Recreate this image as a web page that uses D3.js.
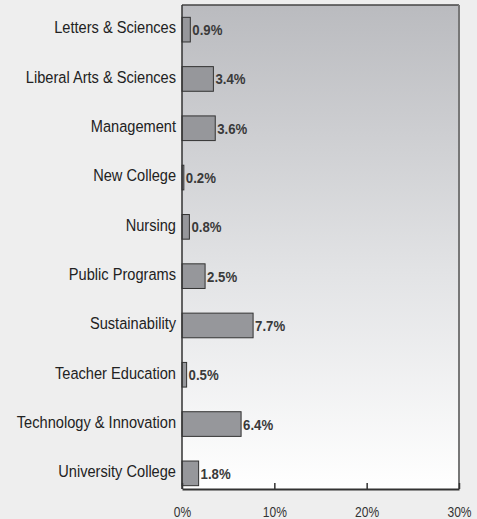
<!DOCTYPE html>
<html>
<head>
<meta charset="utf-8">
<script src="https://cdn.jsdelivr.net/npm/d3@7"></script>
<style>
  body { margin: 0; background: #eeeeee; }
  svg { display: block; }
</style>
</head>
<body>
<svg id="chart" width="477" height="519"></svg>
<script>
// chart data
var categories = ['Letters & Sciences', 'Liberal Arts & Sciences', 'Management', 'New College',
    'Nursing', 'Public Programs', 'Sustainability', 'Teacher Education',
    'Technology & Innovation', 'University College'];
var values = [0.9, 3.4, 3.6, 0.2, 0.8, 2.5, 7.7, 0.5, 6.4, 1.8];
var ticks = [0, 10, 20, 30];

var svg = d3.select('#chart');
var margin = { top: 5, right: 18, bottom: 30, left: 182 };
var width = 477 - margin.left - margin.right;
var height = 519 - margin.top - margin.bottom;
var font = '"Liberation Sans", Arial, sans-serif';
var squeeze = 0.86; // fake a condensed face

var x = d3.scaleLinear().domain([0, 30]).range([0, width]);
var y = d3.scaleBand().domain(categories).range([0, 493])
    .paddingInner(0.5).paddingOuter(0.25);

var grad = svg.append('defs').append('linearGradient')
    .attr('id', 'bg').attr('x1', 0).attr('y1', 0).attr('x2', 0).attr('y2', 1);
grad.append('stop').attr('offset', '0%').attr('stop-color', '#babbbf');
grad.append('stop').attr('offset', '55%').attr('stop-color', '#e2e3e5');
grad.append('stop').attr('offset', '100%').attr('stop-color', '#ffffff');

var g = svg.append('g').attr('transform', 'translate(' + margin.left + ',' + margin.top + ')');

g.append('rect')
    .attr('width', width).attr('height', height)
    .attr('fill', 'url(#bg)');

// borders: top dark, right gray
g.append('line').attr('x1', 0).attr('x2', width).attr('y1', 0).attr('y2', 0)
    .attr('stroke', '#444').attr('stroke-width', 1.5);
g.append('line').attr('x1', width).attr('x2', width).attr('y1', 0).attr('y2', height)
    .attr('stroke', '#777').attr('stroke-width', 2);

g.selectAll('.bar')
    .data(values)
    .enter().append('rect')
    .attr('class', 'bar')
    .attr('x', 0)
    .attr('y', function (d, i) { return y(categories[i]); })
    .attr('width', function (d) { return x(d); })
    .attr('height', y.bandwidth())
    .attr('fill', '#96979b')
    .attr('stroke', '#333')
    .attr('stroke-width', 1);

g.selectAll('.val')
    .data(values)
    .enter().append('text')
    .attr('class', 'val')
    .attr('transform', function (d, i) {
        return 'translate(' + (x(d) + 2) + ',' + (y(categories[i]) + y.bandwidth() / 2 + 5.5) + ') scale(0.88,1)';
    })
    .attr('font-family', font)
    .attr('font-weight', 'bold')
    .attr('font-size', 15)
    .attr('fill', '#3a3a3a')
    .text(function (d) { return d.toFixed(1) + '%'; });

// category axis
var yAxis = g.append('g').call(d3.axisLeft(y).tickSize(0).tickPadding(0));
yAxis.select('.domain').remove();
yAxis.selectAll('text')
    .attr('x', -6 / squeeze)
    .attr('dy', '0.22em')
    .attr('transform', 'scale(' + squeeze + ',1)')
    .attr('font-family', font)
    .attr('font-size', 17)
    .attr('fill', '#222');
g.append('line').attr('x1', 0).attr('x2', 0).attr('y1', 0).attr('y2', height)
    .attr('stroke', '#333').attr('stroke-width', 1.5);

// value axis, ticks point up into the plot
var xAxis = g.append('g')
    .attr('transform', 'translate(0,' + height + ')')
    .call(d3.axisBottom(x).tickValues(ticks).tickSize(-6).tickSizeOuter(0).tickPadding(18)
        .tickFormat(function (d) { return d + '%'; }));
xAxis.select('.domain').attr('stroke', '#333').attr('stroke-width', 2);
xAxis.selectAll('line').attr('stroke', '#333').attr('stroke-width', 1.5);
xAxis.selectAll('text')
    .attr('transform', 'scale(' + squeeze + ',1)')
    .attr('font-family', font)
    .attr('font-size', 14)
    .attr('fill', '#333');
</script>
</body>
</html>
